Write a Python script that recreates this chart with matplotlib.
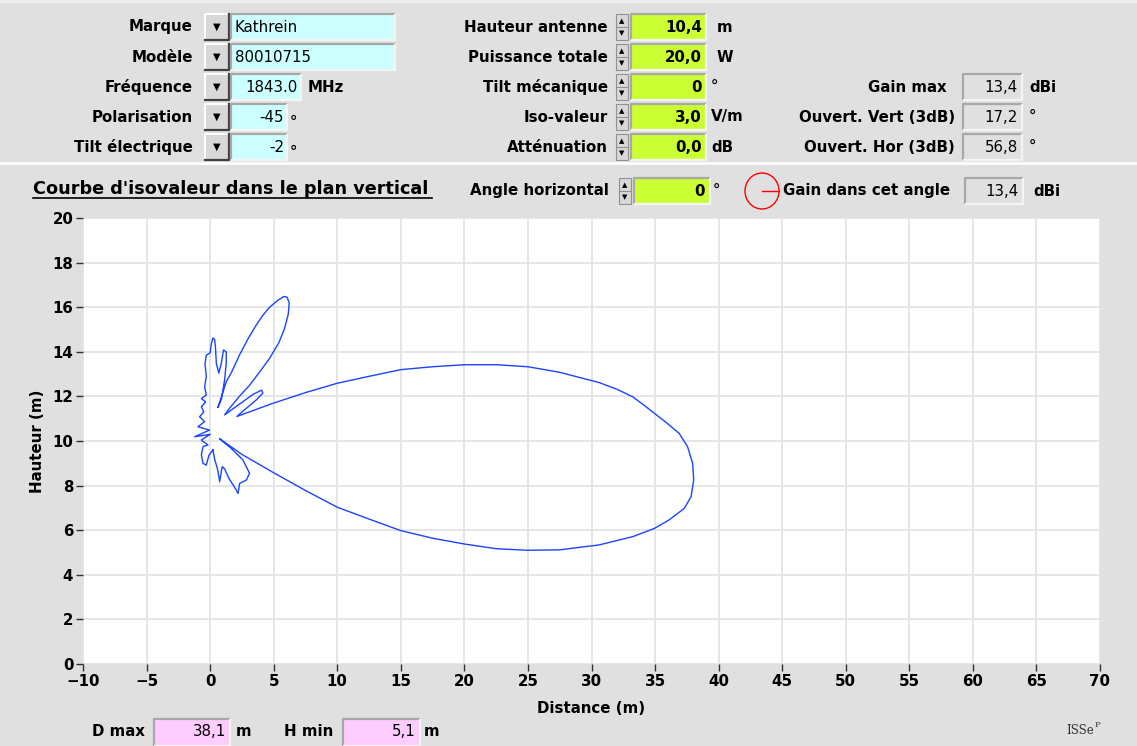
import matplotlib
matplotlib.use('Agg')
import matplotlib.pyplot as plt
from matplotlib.patches import Rectangle, Ellipse

# Courbe d'isovaleur (distance, hauteur)
distance = [0.22, 0.35, 0.60, 0.75, 0.95, 1.14, 1.50, 1.90, 2.20, 2.32, 2.85, 3.10, 2.58, 1.60, 0.75,
            2.50, 4.99, 7.50, 10.0, 12.5, 15.0, 17.5, 20.0, 22.5, 25.0, 27.5, 30.6, 33.24, 34.95,
            36.1, 37.3, 37.83, 38.04, 37.96, 37.56, 36.9, 35.9, 34.95, 34.1, 33.25, 32.0, 30.6, 27.5,
            25.0, 22.5, 20.0, 17.5, 15.0, 12.5, 10.0, 7.5, 4.94, 2.10,
            2.50, 3.63, 4.15, 4.05, 3.40, 2.30, 1.14,
            1.53, 2.30, 3.10, 3.90, 4.68, 5.40, 5.86, 6.15, 6.22, 6.05, 5.80, 5.30, 4.68, 4.10,
            3.63, 3.00, 2.32, 1.70, 1.27, 0.90, 0.61,
            0.90, 1.14, 1.27, 1.27, 1.05, 0.88, 0.68, 0.49, 0.42, 0.35, 0.22, 0.10, 0.00, -0.30,
            -0.40, -0.30, -0.43, -0.30,
            -0.69, -0.35, -0.69, -0.50, -0.83, -0.43, -0.96, -0.05, -1.22, 0.00, -0.69, -0.17,
            -0.55, -0.69, -0.57, -0.30, -0.10, 0.22]
hauteur = [9.60, 9.20, 8.70, 8.18, 8.85, 8.75, 8.30, 7.95, 7.65, 8.10, 8.25, 8.55, 9.15, 9.70, 10.10,
           9.40, 8.58, 7.78, 7.03, 6.50, 5.98, 5.64, 5.38, 5.17, 5.10, 5.12, 5.34, 5.71, 6.08,
           6.46, 6.98, 7.50, 8.25, 8.99, 9.74, 10.34, 10.82, 11.24, 11.62, 11.98, 12.32, 12.62, 13.08,
           13.33, 13.42, 13.42, 13.33, 13.20, 12.90, 12.59, 12.17, 11.69, 11.10,
           11.30, 11.84, 12.15, 12.28, 12.10, 11.65, 11.17,
           11.47, 12.00, 12.50, 13.10, 13.71, 14.40, 15.05, 15.70, 16.20, 16.45, 16.48, 16.30, 16.00, 15.60,
           15.20, 14.60, 13.87, 13.10, 12.66, 12.00, 11.50,
           11.90, 12.74, 13.50, 14.00, 14.08, 13.48, 13.05, 13.48, 14.20, 14.55, 14.62, 14.37, 13.95, 13.85,
           13.45, 12.90, 12.43, 12.06,
           11.90, 11.75, 11.54, 11.30, 11.09, 10.87, 10.64, 10.49, 10.19, 10.30, 10.04, 9.82,
           9.75, 9.40, 9.00, 8.92, 9.35, 9.60]

x_ticks = list(range(-10, 71, 5))
y_ticks = list(range(0, 21, 2))

# champs de l'interface
labels_col1 = ['Marque', 'Modèle', 'Fréquence', 'Polarisation', 'Tilt électrique']
values_col1 = ['Kathrein', '80010715', '1843.0', '-45', '-2']
units_col1 = ['', '', 'MHz', '∘', '∘']

labels_col2 = ['Hauteur antenne', 'Puissance totale', 'Tilt mécanique', 'Iso-valeur', 'Atténuation']
values_col2 = ['10,4', '20,0', '0', '3,0', '0,0']
units_col2 = ['m', 'W', '°', 'V/m', 'dB']

labels_col3 = ['Gain max', 'Ouvert. Vert (3dB)', 'Ouvert. Hor (3dB)']
values_col3 = ['13,4', '17,2', '56,8']
units_col3 = ['dBi', '°', '°']

angle_horizontal = '0'
gain_angle = '13,4'
d_max = '38,1'
h_min = '5,1'

BG = '#e0e0e0'
CYAN = '#ccffff'
GREEN = '#ccff33'
PINK = '#ffccff'

fig = plt.figure(figsize=(11.37, 7.46), dpi=100, facecolor=BG)
bg = fig.add_axes([0, 0, 1, 1], zorder=0)
bg.set_xlim(0, 1137)
bg.set_ylim(746, 0)
bg.axis('off')
bg.set_facecolor(BG)

FS = 10.8


def field(x0, y0, x1, y1, color):
    bg.add_patch(Rectangle((x0, y0), x1 - x0, y1 - y0, facecolor=color, edgecolor='none'))
    bg.plot([x0, x0, x1], [y1, y0, y0], color='#a8a8a8', lw=1.6, solid_capstyle='butt')
    bg.plot([x1, x1, x0], [y0, y1, y1], color='#f4f4f4', lw=1.6, solid_capstyle='butt')


def bouton(x0, y0, x1, y1):
    bg.add_patch(Rectangle((x0, y0), x1 - x0, y1 - y0, facecolor='#d8d8d8', edgecolor='none'))
    bg.plot([x0, x0, x1], [y1, y0, y0], color='#ffffff', lw=1.4)
    bg.plot([x1, x1, x0], [y0, y1, y1], color='#404040', lw=1.6)
    bg.text((x0 + x1) / 2, (y0 + y1) / 2, '▼', ha='center', va='center', fontsize=7, color='black')


def spinner(x0, y0, x1, y1):
    bg.add_patch(Rectangle((x0, y0), x1 - x0, y1 - y0, facecolor='#d8d8d8', edgecolor='#909090', lw=0.8))
    ym = (y0 + y1) / 2
    bg.plot([x0, x1], [ym, ym], color='#909090', lw=0.8)
    bg.text((x0 + x1) / 2, (y0 + ym) / 2 + 1, '▲', ha='center', va='center', fontsize=5, color='black')
    bg.text((x0 + x1) / 2, (ym + y1) / 2, '▼', ha='center', va='center', fontsize=5, color='black')


# ligne de séparation
bg.plot([0, 1137], [163, 163], color='white', lw=2)
bg.plot([0, 1137], [1, 1], color='#f0f0f0', lw=2)

rows = [27, 57, 87, 117, 147]

# colonne 1
right_col1 = [395, 395, 301, 287, 287]
for i, y in enumerate(rows):
    bg.text(193, y, labels_col1[i], ha='right', va='center', fontsize=FS, fontweight='bold')
    bouton(205, y - 13, 229, y + 13)
    field(231, y - 13, right_col1[i], y + 13, CYAN)
    if i < 2:
        bg.text(235, y, values_col1[i], ha='left', va='center', fontsize=FS)
    else:
        bg.text(right_col1[i] - 3, y, values_col1[i], ha='right', va='center', fontsize=FS)
    if units_col1[i] == 'MHz':
        bg.text(308, y, units_col1[i], ha='left', va='center', fontsize=FS, fontweight='bold')
    elif units_col1[i]:
        bg.text(289, y + 1, units_col1[i], ha='left', va='center', fontsize=FS, fontweight='bold')

# colonne 2
for i, y in enumerate(rows):
    bg.text(608, y, labels_col2[i], ha='right', va='center', fontsize=FS, fontweight='bold')
    spinner(616, y - 13, 628, y + 13)
    field(631, y - 13, 706, y + 13, GREEN)
    bg.text(702, y, values_col2[i], ha='right', va='center', fontsize=FS, fontweight='bold')
    ux = 717 if units_col2[i] in ('m', 'W') else 711
    bg.text(ux, y, units_col2[i], ha='left', va='center', fontsize=FS, fontweight='bold')

# colonne 3
right_col3 = [947, 955, 955]
for i, y in enumerate(rows[2:]):
    bg.text(right_col3[i], y, labels_col3[i], ha='right', va='center', fontsize=FS, fontweight='bold')
    field(963, y - 13, 1022, y + 13, BG)
    bg.text(1018, y, values_col3[i], ha='right', va='center', fontsize=FS)
    bg.text(1029, y, units_col3[i], ha='left', va='center', fontsize=FS, fontweight='bold')

# ligne du titre
bg.text(33, 189, "Courbe d'isovaleur dans le plan vertical", ha='left', va='center',
        fontsize=12.7, fontweight='bold')
bg.plot([33, 432], [198, 198], color='black', lw=1.2)

bg.text(609, 191, 'Angle horizontal', ha='right', va='center', fontsize=FS, fontweight='bold')
spinner(619, 178, 631, 204)
field(634, 178, 710, 204, GREEN)
bg.text(705, 191, angle_horizontal, ha='right', va='center', fontsize=FS, fontweight='bold')
bg.text(713, 191, '°', ha='left', va='center', fontsize=FS, fontweight='bold')

bg.add_patch(Ellipse((762, 191), 34, 36, facecolor='none', edgecolor='red', lw=1))
bg.plot([762, 779], [191, 191], color='red', lw=1)
bg.text(783, 191, 'Gain dans cet angle', ha='left', va='center', fontsize=FS, fontweight='bold')
field(965, 178, 1023, 204, BG)
bg.text(1019, 191, gain_angle, ha='right', va='center', fontsize=FS)
bg.text(1033, 191, 'dBi', ha='left', va='center', fontsize=FS, fontweight='bold')

# bas de la fenêtre
bg.text(145, 732, 'D max', ha='right', va='center', fontsize=FS, fontweight='bold')
field(154, 719, 230, 746, PINK)
bg.text(226, 732, d_max, ha='right', va='center', fontsize=FS)
bg.text(236, 732, 'm', ha='left', va='center', fontsize=FS, fontweight='bold')
bg.text(333, 732, 'H min', ha='right', va='center', fontsize=FS, fontweight='bold')
field(343, 719, 420, 746, PINK)
bg.text(416, 732, h_min, ha='right', va='center', fontsize=FS)
bg.text(424, 732, 'm', ha='left', va='center', fontsize=FS, fontweight='bold')
bg.text(1066, 730, 'ISSe', ha='left', va='center', fontsize=8.5, family='DejaVu Serif', color='#333333')
bg.text(1095, 725, 'P', ha='left', va='center', fontsize=6, family='DejaVu Serif', color='#333333')

# graphique
ax = fig.add_axes([83 / 1137, 1 - 664 / 746, (1100 - 83) / 1137, (664 - 218) / 746], zorder=2)
ax.set_facecolor('white')
ax.plot(distance + distance[:1], hauteur + hauteur[:1], color='#1a44ff', lw=1.0)
ax.set_xlim(-10, 70)
ax.set_ylim(0, 20)
ax.set_xticks(x_ticks)
ax.set_yticks(y_ticks)
ax.grid(True, color='#e4e4e4', lw=1.3)
ax.set_axisbelow(True)
for s in ax.spines.values():
    s.set_visible(False)
ax.tick_params(direction='out', length=5, width=1, color='#303030', labelsize=FS, pad=2)
for lab in ax.get_xticklabels() + ax.get_yticklabels():
    lab.set_fontweight('bold')
ax.set_xlabel('Distance (m)', fontsize=FS, fontweight='bold', labelpad=9)
ax.set_ylabel('Hauteur (m)', fontsize=FS, fontweight='bold', labelpad=5)

fig.savefig('out.png', dpi=100, facecolor=BG)
